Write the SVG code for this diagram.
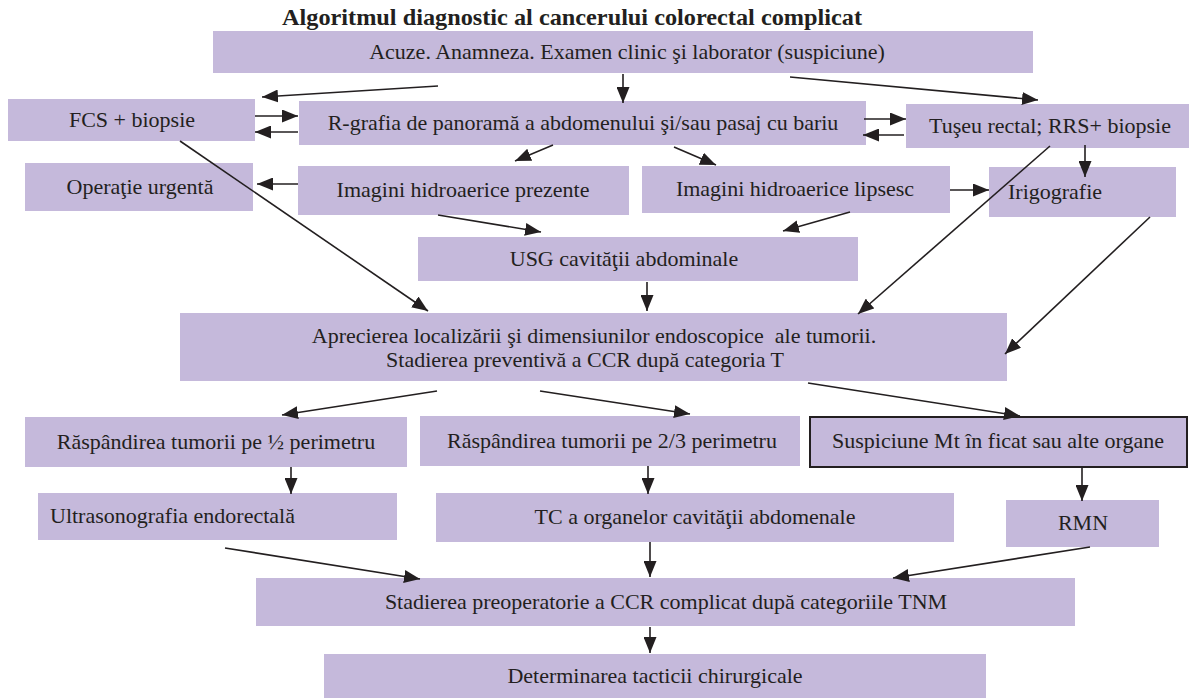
<svg xmlns="http://www.w3.org/2000/svg" width="1189" height="698" viewBox="0 0 1189 698">
  <defs>
    <style>
      .box { fill: #c5b9db; }
      .framed { stroke: #231f20; stroke-width: 2; }
      .lbl { font-family: "Liberation Serif", "Times New Roman", serif; font-size: 22px; fill: #231f20; text-anchor: middle; white-space: pre; }
      .start { text-anchor: start; }
      .title { font-family: "Liberation Serif", "Times New Roman", serif; font-size: 24px; font-weight: bold; fill: #231f20; }
      .conn line { stroke: #231f20; stroke-width: 1.6; marker-end: url(#arrow); }
    </style>
    <marker id="arrow" markerUnits="userSpaceOnUse" markerWidth="17" markerHeight="13" refX="16" refY="6.5" orient="auto">
      <path d="M0,0 L16,6.5 L0,13 z" fill="#231f20"/>
    </marker>
  </defs>

  <rect width="1189" height="698" fill="#ffffff"/>

  <text class="title" x="282" y="25" textLength="580" lengthAdjust="spacingAndGlyphs">Algoritmul diagnostic al cancerului colorectal complicat</text>

  <g id="acuze">
    <rect class="box" x="213" y="31" width="820" height="42"/>
    <text class="lbl" x="627" y="59">Acuze. Anamneza. Examen clinic şi laborator (suspiciune)</text>
  </g>
  <g id="fcs">
    <rect class="box" x="8" y="99" width="247" height="42"/>
    <text class="lbl" x="132" y="127">FCS + biopsie</text>
  </g>
  <g id="rgrafia">
    <rect class="box" x="299" y="101" width="567" height="44"/>
    <text class="lbl" x="583" y="130">R-grafia de panoramă a abdomenului şi/sau pasaj cu bariu</text>
  </g>
  <g id="tuseu">
    <rect class="box" x="906" y="104" width="283" height="44"/>
    <text class="lbl" x="1050" y="133">Tuşeu rectal; RRS+ biopsie</text>
  </g>
  <g id="operatie">
    <rect class="box" x="25" y="163" width="228" height="48"/>
    <text class="lbl" x="140" y="194">Operaţie urgentă</text>
  </g>
  <g id="prezente">
    <rect class="box" x="298" y="166" width="331" height="49"/>
    <text class="lbl" x="463" y="197">Imagini hidroaerice prezente</text>
  </g>
  <g id="lipsesc">
    <rect class="box" x="642" y="166" width="308" height="47"/>
    <text class="lbl" x="795" y="196">Imagini hidroaerice lipsesc</text>
  </g>
  <g id="irigografie">
    <rect class="box" x="989" y="167" width="187" height="50"/>
    <text class="lbl start" x="1008" y="199">Irigografie</text>
  </g>
  <g id="usg">
    <rect class="box" x="418" y="237" width="440" height="44"/>
    <text class="lbl" x="624" y="266">USG cavităţii abdominale</text>
  </g>
  <g id="apreciere">
    <rect class="box" x="180" y="313" width="827" height="68"/>
    <text class="lbl" x="594" y="343" xml:space="preserve">Aprecierea localizării şi dimensiunilor endoscopice  ale tumorii.</text>
    <text class="lbl" x="585" y="367">Stadierea preventivă a CCR după categoria T</text>
  </g>
  <g id="jumatate">
    <rect class="box" x="25" y="417" width="382" height="50"/>
    <text class="lbl" x="216" y="449">Răspândirea tumorii pe ½ perimetru</text>
  </g>
  <g id="doua-treimi">
    <rect class="box" x="420" y="416" width="380" height="50"/>
    <text class="lbl" x="612" y="448">Răspândirea tumorii pe 2/3 perimetru</text>
  </g>
  <g id="suspiciune">
    <rect class="box framed" x="810" y="417" width="377" height="50"/>
    <text class="lbl" x="998" y="448">Suspiciune Mt în ficat sau alte organe</text>
  </g>
  <g id="ultrasonografie">
    <rect class="box" x="38" y="493" width="359" height="47"/>
    <text class="lbl start" x="50" y="523">Ultrasonografia endorectală</text>
  </g>
  <g id="tc">
    <rect class="box" x="436" y="493" width="518" height="49"/>
    <text class="lbl" x="695" y="524">TC a organelor cavităţii abdomenale</text>
  </g>
  <g id="rmn">
    <rect class="box" x="1006" y="500" width="153" height="47"/>
    <text class="lbl" x="1083" y="530">RMN</text>
  </g>
  <g id="preoperatorie">
    <rect class="box" x="256" y="578" width="819" height="48"/>
    <text class="lbl" x="666" y="609">Stadierea preoperatorie a CCR complicat după categoriile TNM</text>
  </g>
  <g id="tactica">
    <rect class="box" x="324" y="654" width="662" height="44"/>
    <text class="lbl" x="655" y="683">Determinarea tacticii chirurgicale</text>
  </g>

  <g id="connectors" class="conn">
    <line x1="438" y1="86" x2="262" y2="97"/>
    <line x1="623" y1="74" x2="623" y2="103"/>
    <line x1="790" y1="77" x2="1038" y2="100"/>
    <line x1="255" y1="116" x2="298" y2="116"/>
    <line x1="298" y1="132" x2="255" y2="132"/>
    <line x1="864" y1="119" x2="906" y2="119"/>
    <line x1="904" y1="135" x2="863" y2="135"/>
    <line x1="553" y1="145" x2="515" y2="161"/>
    <line x1="674" y1="147" x2="716" y2="165"/>
    <line x1="1085" y1="145" x2="1085" y2="177"/>
    <line x1="1050" y1="146" x2="858" y2="314"/>
    <line x1="298" y1="184" x2="257" y2="184"/>
    <line x1="950" y1="190" x2="989" y2="190"/>
    <line x1="180" y1="141" x2="428" y2="311"/>
    <line x1="438" y1="215" x2="541" y2="232"/>
    <line x1="850" y1="212" x2="783" y2="231"/>
    <line x1="1150" y1="217" x2="1005" y2="354"/>
    <line x1="647" y1="282" x2="647" y2="311"/>
    <line x1="437" y1="391" x2="282" y2="415"/>
    <line x1="540" y1="391" x2="690" y2="414"/>
    <line x1="808" y1="383" x2="1020" y2="416"/>
    <line x1="291" y1="467" x2="291" y2="494"/>
    <line x1="648" y1="466" x2="648" y2="494"/>
    <line x1="1082" y1="467" x2="1082" y2="501"/>
    <line x1="225" y1="548" x2="420" y2="579"/>
    <line x1="650" y1="542" x2="650" y2="577"/>
    <line x1="1090" y1="547" x2="893" y2="578"/>
    <line x1="650" y1="627" x2="650" y2="653"/>
  </g>
</svg>
